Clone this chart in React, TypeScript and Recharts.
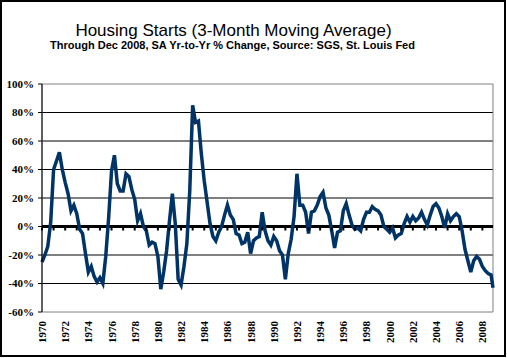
import { ComposedChart, Line, Scatter, XAxis, YAxis, CartesianGrid, ReferenceLine, ReferenceArea } from 'recharts';

// housing starts, 3-month moving average, yr-to-yr % change, one value per quarter from 1970 Q1
const startYear = 1970;
const quarterlyPct = [
  -25, -20, -14, 3, 40, 46, 52, 40, 31, 23, 11, 15, 9, -2, -5, -19,
  -32, -28, -35, -39, -36, -40, -21, 6, 39, 50, 30, 25, 25, 37, 35, 26,
  19, 4, 9, 0, -3, -13, -11, -12, -21, -44, -32, -17, 4, 23, 2, -37,
  -41, -28, -12, 25, 85, 73, 74, 51, 32, 17, 2, -7, -10, -4, 0, 8,
  15, 8, 5, -5, -6, -12, -11, -4, -19, -10, -8, -7, 10, -3, -10, -13,
  -7, -10, -17, -20, -37, -19, -9, 7, 37, 15, 15, 10, -5, 10, 11, 15,
  21, 24, 13, 8, -3, -15, -4, -3, 11, 16, 8, 1, -2, -1, -3, 5,
  10, 10, 14, 12, 11, 8, 0, -2, -4, -1, -8, -6, -5, 2, 7, 3,
  7, 4, 6, 10, 5, 1, 8, 14, 16, 13, 7, -1, 9, 4, 7, 9,
  7, -3, -16, -24, -32, -24, -21, -23, -28, -31, -33, -34,
];
// Dec 2008 reading
const lastMonth = { t: 2008.917, pct: -43 };

const yearLabels = [1970, 1972, 1974, 1976, 1978, 1980, 1982, 1984, 1986, 1988, 1990, 1992, 1994, 1996, 1998, 2000, 2002, 2004, 2006, 2008];
const yearMarks = Array.from({ length: 39 }, (_, i) => startYear + i);
const pctTicks = [-60, -40, -20, 0, 20, 40, 60, 80, 100];

const series = [
  ...quarterlyPct.map((pct, i) => ({ t: startYear + i / 4, pct })),
  lastMonth,
];
const marks = yearMarks.map((t) => ({ t, pct: 0 }));

const tickFont = { fontFamily: '"Liberation Serif", "Times New Roman", serif', fontWeight: 700, fontSize: 11, fill: '#000' };

function YearTick({ x, y, payload }: any) {
  return (
    <text x={x} y={y + 9} transform={`rotate(-90 ${x} ${y + 9})`} textAnchor="end" dominantBaseline="central" style={tickFont}>
      {payload.value}
    </text>
  );
}

function ZeroMark({ cx, cy }: any) {
  return <rect x={cx - 1} y={cy + 1} width={2} height={3} fill="#000" />;
}

export default function App() {
  return (
    <div style={{ position: 'absolute', left: 0, top: 0, width: 507, height: 358, background: '#fff' }}>
      <div style={{ position: 'absolute', left: 0, top: 0, width: 506, height: 357, border: '2px solid #000', boxSizing: 'border-box' }} />
      <div style={{ position: 'absolute', left: 0, width: 467, top: 23.5, lineHeight: '13px', textAlign: 'center', fontFamily: '"Liberation Sans", Arial, sans-serif', fontSize: 17, color: '#000' }}>
        Housing Starts (3-Month Moving Average)
      </div>
      <div style={{ position: 'absolute', left: 0, width: 465, top: 41, lineHeight: '9px', textAlign: 'center', fontFamily: '"Liberation Sans", Arial, sans-serif', fontSize: 11, fontWeight: 700, color: '#000' }}>
        Through Dec 2008, SA Yr-to-Yr % Change, Source: SGS, St. Louis Fed
      </div>
      <div style={{ position: 'absolute', left: 0, top: 0 }}>
        <ComposedChart width={507} height={358} margin={{ top: 84, right: 14, bottom: 6, left: 0 }}>
          <CartesianGrid vertical={false} stroke="#000" horizontalValues={[-40, -20, 20, 40, 60, 80]} />
          <ReferenceArea x1={1970} x2={2008.917} y1={-60} y2={100} fill="none" stroke="#808080" strokeWidth={1} />
          <XAxis
            dataKey="t"
            type="number"
            domain={[1970, 2008.917]}
            ticks={yearLabels}
            tick={<YearTick />}
            tickSize={0}
            tickMargin={0}
            axisLine={false}
            height={40}
            interval={0}
          />
          <YAxis
            type="number"
            domain={[-60, 100]}
            ticks={pctTicks}
            tickFormatter={(v) => `${v}%`}
            tick={tickFont}
            tickSize={4}
            tickMargin={4}
            stroke="#000"
            width={42}
            interval={0}
          />
          <ReferenceLine y={0} stroke="#000" strokeWidth={3} />
          <Scatter data={marks} dataKey="pct" shape={<ZeroMark />} isAnimationActive={false} />
          <Line data={series} dataKey="pct" type="linear" stroke="#003366" strokeWidth={3.5} dot={false} isAnimationActive={false} />
        </ComposedChart>
      </div>
    </div>
  );
}
